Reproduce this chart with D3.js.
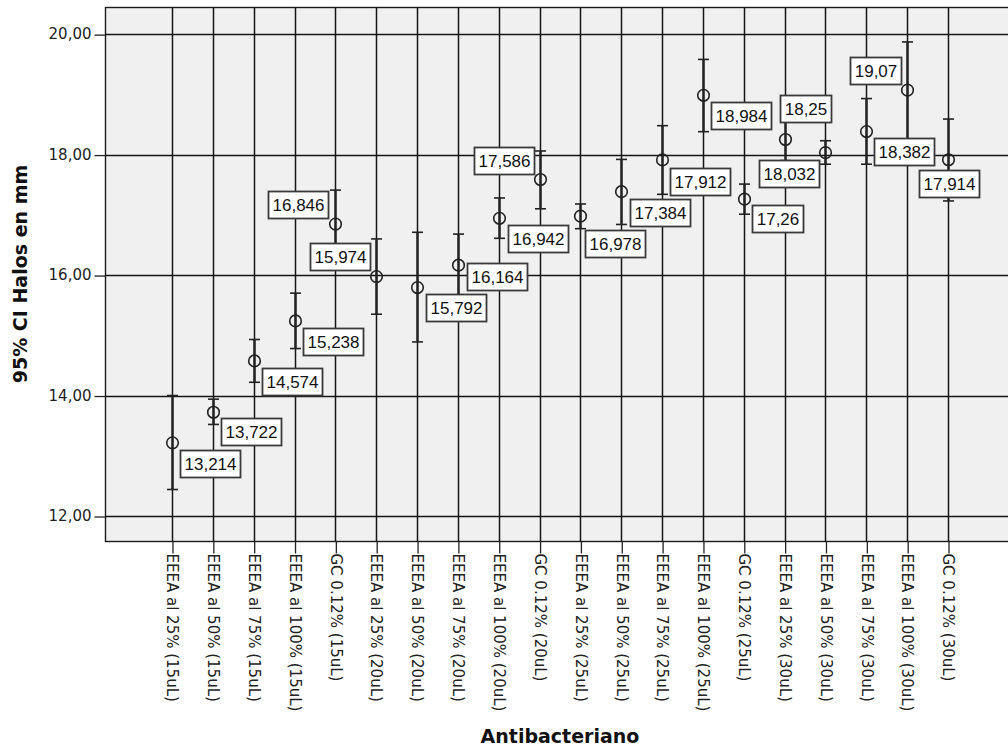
<!DOCTYPE html>
<html>
<head>
<meta charset="utf-8">
<script src="https://cdn.jsdelivr.net/npm/d3@7/dist/d3.min.js"></script>
<style>
  html, body { margin: 0; padding: 0; background: #fff; }
  svg { display: block; }
</style>
</head>
<body>
<svg id="chart" width="1008" height="751"></svg>
<script>
// Antibacterial groups (x axis)
const categories = [
  "EEEA al 25% (15uL)", "EEEA al 50% (15uL)", "EEEA al 75% (15uL)", "EEEA al 100% (15uL)", "GC 0.12% (15uL)",
  "EEEA al 25% (20uL)", "EEEA al 50% (20uL)", "EEEA al 75% (20uL)", "EEEA al 100% (20uL)", "GC 0.12% (20uL)",
  "EEEA al 25% (25uL)", "EEEA al 50% (25uL)", "EEEA al 75% (25uL)", "EEEA al 100% (25uL)", "GC 0.12% (25uL)",
  "EEEA al 25% (30uL)", "EEEA al 50% (30uL)", "EEEA al 75% (30uL)", "EEEA al 100% (30uL)", "GC 0.12% (30uL)"
];

// Mean halo diameter (mm)
const means = [
  13.214, 13.722, 14.574, 15.238, 16.846,
  15.974, 15.792, 16.164, 16.942, 17.586,
  16.978, 17.384, 17.912, 18.984, 17.26,
  18.25, 18.032, 18.382, 19.07, 17.914
];

// 95% confidence interval bounds
const ciLower = [
  12.44, 13.52, 14.22, 14.78, 16.28,
  15.35, 14.89, 15.65, 16.61, 17.10,
  16.77, 16.84, 17.34, 18.38, 17.01,
  17.90, 17.84, 17.84, 18.25, 17.23
];
const ciUpper = [
  14.00, 13.94, 14.93, 15.70, 17.41,
  16.60, 16.71, 16.68, 17.28, 18.06,
  17.18, 17.92, 18.48, 19.58, 17.51,
  18.60, 18.23, 18.93, 19.87, 18.59
];

const yTicks = [12, 14, 16, 18, 20];

// Placement of each value label box relative to its point:
// [horizontal anchor, dx, vertical anchor, dy]
const labelPlacement = [
  ["start", 7, "top", 7], ["start", 7, "top", 6], ["start", 7, "top", 7], ["start", 7, "top", 7], ["end", -8, "bottom", -6],
  ["end", -7, "bottom", -7], ["start", 8, "top", 6], ["start", 8, "top", -2], ["start", 8, "top", 7], ["end", -7, "bottom", -6],
  ["start", 4, "top", 14], ["start", 8, "top", 7], ["start", 7, "top", 8], ["start", 7, "top", 7], ["start", 7, "top", 6],
  ["start", -6, "bottom", -18], ["end", -7, "top", 7], ["start", 7, "top", 6], ["end", -7, "bottom", -6], ["middle", 0, "top", 10]
];

const data = categories.map((c, i) => ({
  cat: c, mean: means[i], lo: ciLower[i], hi: ciUpper[i], place: labelPlacement[i]
}));

const svg = d3.select("#chart");
const plot = { left: 105, top: 7, right: 1015, bottom: 541 };

const x = d3.scalePoint().domain(categories).range([plot.left, plot.right]).padding(1.64);
const y = d3.scaleLinear().domain([11.585, 20.45]).range([plot.bottom, plot.top]);

const comma = v => String(v).replace(".", ",");
const fmtTick = v => d3.format(".2f")(v).replace(".", ",");
const crisp = v => Math.round(v) + 0.5;

// Plot background
svg.append("rect")
  .attr("x", plot.left + 0.5).attr("y", plot.top + 0.5)
  .attr("width", plot.right - plot.left).attr("height", plot.bottom - plot.top)
  .attr("fill", "#f0f0f0").attr("stroke", "#1a1a1a").attr("stroke-width", 1.4);

// Grid
const grid = svg.append("g").attr("stroke", "#161616").attr("stroke-width", 1.5);
grid.selectAll("line.h").data(yTicks).join("line").attr("class", "h")
  .attr("x1", plot.left).attr("x2", plot.right)
  .attr("y1", d => crisp(y(d))).attr("y2", d => crisp(y(d)));
grid.selectAll("line.v").data(categories).join("line").attr("class", "v")
  .attr("x1", d => crisp(x(d))).attr("x2", d => crisp(x(d)))
  .attr("y1", plot.top).attr("y2", plot.bottom);

// Y axis
const yAxis = svg.append("g")
  .attr("transform", `translate(${plot.left + 0.5},0)`)
  .call(d3.axisLeft(y).tickValues(yTicks).tickFormat(fmtTick).tickSize(11).tickPadding(3));
yAxis.select(".domain").remove();
yAxis.selectAll(".tick line").attr("stroke", "#222").attr("stroke-width", 1.3).attr("transform", "translate(0,0.5)");
yAxis.selectAll(".tick text")
  .attr("font-family", "'DejaVu Sans', sans-serif").attr("font-size", 15).attr("fill", "#222");

// X axis
const xAxis = svg.append("g")
  .attr("transform", `translate(0,${plot.bottom + 0.5})`)
  .call(d3.axisBottom(x).tickSize(12).tickPadding(0));
xAxis.select(".domain").remove();
xAxis.selectAll(".tick line").attr("stroke", "#222").attr("stroke-width", 1.3).attr("transform", "translate(0.5,0)");
xAxis.selectAll(".tick text")
  .attr("font-family", "'DejaVu Sans', sans-serif").attr("font-size", 15).attr("fill", "#222")
  .attr("text-anchor", "start")
  .attr("transform", "rotate(90)")
  .attr("x", 12).attr("y", 0).attr("dy", "0.35em");

// Error bars
const bars = svg.append("g").attr("stroke", "#222").attr("fill", "none");
bars.selectAll("line.ci").data(data).join("line").attr("class", "ci")
  .attr("x1", d => crisp(x(d.cat))).attr("x2", d => crisp(x(d.cat)))
  .attr("y1", d => y(d.lo)).attr("y2", d => y(d.hi))
  .attr("stroke-width", 2.4);
bars.selectAll("line.capHi").data(data).join("line").attr("class", "capHi")
  .attr("x1", d => crisp(x(d.cat)) - 5.5).attr("x2", d => crisp(x(d.cat)) + 5.5)
  .attr("y1", d => y(d.hi)).attr("y2", d => y(d.hi)).attr("stroke-width", 1.6);
bars.selectAll("line.capLo").data(data).join("line").attr("class", "capLo")
  .attr("x1", d => crisp(x(d.cat)) - 5.5).attr("x2", d => crisp(x(d.cat)) + 5.5)
  .attr("y1", d => y(d.lo)).attr("y2", d => y(d.lo)).attr("stroke-width", 1.6);

// Mean markers
svg.append("g").selectAll("circle").data(data).join("circle")
  .attr("cx", d => crisp(x(d.cat))).attr("cy", d => y(d.mean))
  .attr("r", 5.8).attr("fill", "none").attr("stroke", "#222").attr("stroke-width", 1.6);

// Value labels
const labels = svg.append("g");
const boxH = 27, padX = 4;
data.forEach(d => {
  const cx = crisp(x(d.cat)), cy = y(d.mean);
  const [ha, dx, va, dy] = d.place;
  const g = labels.append("g");
  const t = g.append("text").text(comma(d.mean))
    .attr("font-family", "'Liberation Sans', Arial, sans-serif").attr("font-size", 17)
    .attr("fill", "#111").attr("text-anchor", "middle");
  const w = t.node().getComputedTextLength() + padX * 2;
  let left;
  if (ha === "start") left = cx + dx;
  else if (ha === "end") left = cx + dx - w;
  else left = cx + dx - w / 2;
  const top = va === "top" ? cy + dy : cy + dy - boxH;
  g.insert("rect", "text")
    .attr("x", Math.round(left) + 0.5).attr("y", Math.round(top) + 0.5)
    .attr("width", Math.round(w)).attr("height", boxH)
    .attr("fill", "#fff").attr("stroke", "#3a3a3a").attr("stroke-width", 1.8);
  t.attr("x", Math.round(left) + 0.5 + Math.round(w) / 2).attr("y", Math.round(top) + boxH / 2 + 6.5);
});

// Axis titles
svg.append("text")
  .attr("transform", `translate(27,${(plot.top + plot.bottom) / 2}) rotate(-90)`)
  .attr("text-anchor", "middle")
  .attr("font-family", "'DejaVu Sans', sans-serif").attr("font-weight", "bold").attr("font-size", 19)
  .attr("fill", "#111")
  .text("95% CI Halos en mm");

svg.append("text")
  .attr("x", (plot.left + plot.right) / 2).attr("y", 743)
  .attr("text-anchor", "middle")
  .attr("font-family", "'DejaVu Sans', sans-serif").attr("font-weight", "bold").attr("font-size", 19)
  .attr("fill", "#111")
  .text("Antibacteriano");
</script>
</body>
</html>
